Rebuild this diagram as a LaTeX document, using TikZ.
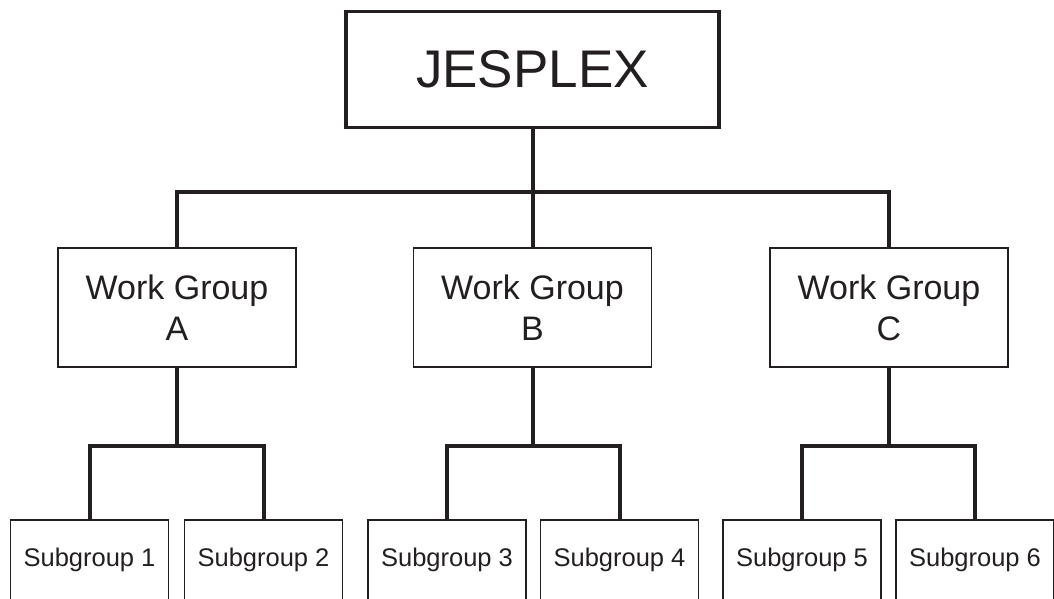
\documentclass[tikz,border=0pt]{standalone}
\usepackage{fontspec}
\setmainfont{Liberation Sans}
\definecolor{ink}{HTML}{231F20}
\begin{document}
\begin{tikzpicture}[x=1pt,y=-1pt,
  topbox/.style={draw=ink,line width=3.6pt,inner sep=0pt,minimum width=373pt,minimum height=116pt,
    font=\fontsize{53}{60}\selectfont,text=ink},
  wgbox/.style={draw=ink,line width=1.4pt,inner sep=0pt,minimum width=238pt,minimum height=119pt,
    align=center,font=\fontsize{34}{41}\selectfont,text=ink},
  sgbox/.style={draw=ink,line width=1.4pt,inner sep=0pt,minimum width=158pt,minimum height=80pt,
    font=\fontsize{25.5}{30}\selectfont,text=ink},
  conn/.style={draw=ink,line width=4pt}]
\useasboundingbox[fill=white] (0,0) rectangle (1054,598);

\node[topbox] (J) at (532.5,69.5) {JESPLEX};

\node[wgbox] (WA) at (177,307.5) {Work Group\\A};
\node[wgbox] (WB) at (532.5,307.5) {Work Group\\B};
\node[wgbox] (WC) at (889,307.5) {Work Group\\C};

\node[sgbox] (S1) at (89.5,560) {Subgroup 1};
\node[sgbox] (S2) at (263.5,560) {Subgroup 2};
\node[sgbox] (S3) at (447,560) {Subgroup 3};
\node[sgbox] (S4) at (619.5,560) {Subgroup 4};
\node[sgbox] (S5) at (802,560) {Subgroup 5};
\node[sgbox] (S6) at (975,560) {Subgroup 6};

\coordinate (busJ) at (532.5,192);
\coordinate (busA) at (177,446);
\coordinate (busB) at (532.5,446);
\coordinate (busC) at (889,446);

\draw[conn] (J.south) -- (busJ);
\draw[conn] (WA.north) |- (busJ) -| (WC.north);
\draw[conn] (busJ) -- (WB.north);

\draw[conn] (WA.south) -- (busA);
\draw[conn] (S1.north) |- (busA) -| (S2.north);
\draw[conn] (WB.south) -- (busB);
\draw[conn] (S3.north) |- (busB) -| (S4.north);
\draw[conn] (WC.south) -- (busC);
\draw[conn] (S5.north) |- (busC) -| (S6.north);
\end{tikzpicture}
\end{document}
